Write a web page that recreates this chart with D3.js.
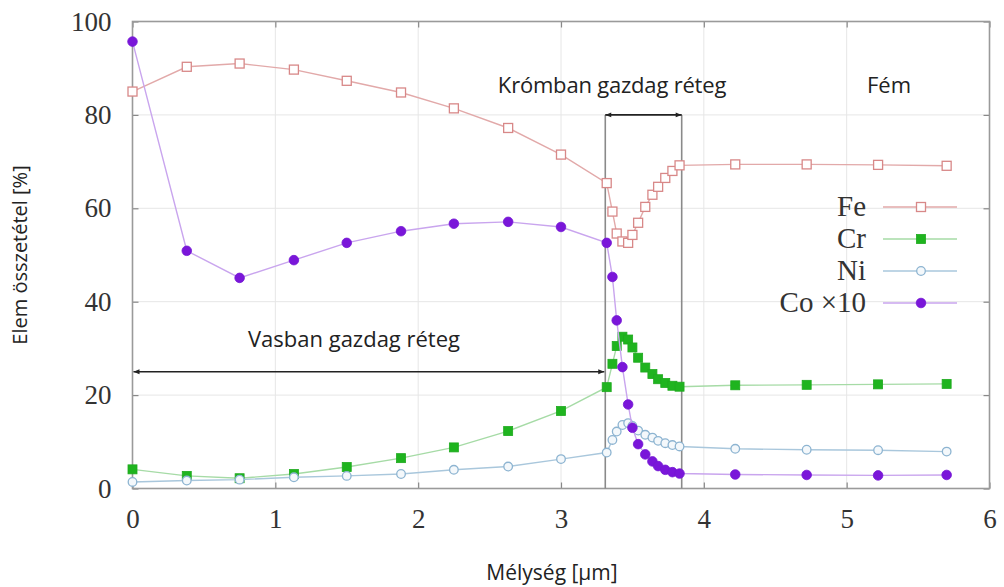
<!DOCTYPE html>
<html><head><meta charset="utf-8">
<script src="https://cdn.jsdelivr.net/npm/d3@7"></script>
<style>body{margin:0;background:#fff}</style>
</head><body>
<svg id="c" width="1004" height="587"></svg>
<script>
// ---- data ----
const depth = [0, 0.38, 0.75, 1.13, 1.5, 1.88, 2.25, 2.63, 3.0, 3.32, 3.36, 3.39, 3.43, 3.47, 3.50, 3.54, 3.59, 3.64, 3.68, 3.73, 3.78, 3.83, 4.22, 4.72, 5.22, 5.70];
const fe = [85.0, 90.3, 91.0, 89.7, 87.3, 84.8, 81.4, 77.2, 71.5, 65.4, 59.3, 54.6, 52.9, 52.6, 54.3, 56.9, 60.3, 62.9, 64.6, 66.5, 68.0, 69.2, 69.4, 69.4, 69.3, 69.1];
const cr = [4.1, 2.7, 2.2, 3.1, 4.6, 6.5, 8.8, 12.3, 16.6, 21.7, 26.7, 30.5, 32.5, 31.9, 30.2, 28.0, 25.9, 24.5, 23.4, 22.6, 22.0, 21.8, 22.1, 22.2, 22.3, 22.4];
const ni = [1.4, 1.7, 1.9, 2.4, 2.7, 3.1, 4.0, 4.7, 6.3, 7.7, 10.4, 12.2, 13.6, 14.0, 13.4, 12.4, 11.5, 10.9, 10.2, 9.7, 9.3, 9.0, 8.5, 8.3, 8.2, 7.9];
const co10 = [95.7, 50.9, 45.1, 48.9, 52.6, 55.1, 56.7, 57.1, 56.0, 52.6, 45.3, 36.0, 26.0, 18.0, 13.0, 9.5, 7.3, 5.8, 4.8, 4.0, 3.5, 3.2, 3.0, 2.9, 2.8, 2.9];
const seriesNames = ["Fe", "Cr", "Ni", "Co \u00d710"];
const xTicks = [0, 1, 2, 3, 4, 5, 6];
const yTicks = [0, 20, 40, 60, 80, 100];
const layerBounds = [3.31, 3.845];      // Cr-rich layer limits (µm)
const layerLabels = ["Krómban gazdag réteg", "Fém", "Vasban gazdag réteg"];
const xTitle = "Mélység [µm]";
const yTitle = "Elem összetétel [%]";

// ---- drawing ----
const svg = d3.select("#c");
const x = d3.scaleLinear().domain([0, 6]).range([132.5, 989.5]);
const y = d3.scaleLinear().domain([0, 100]).range([488.5, 21.5]);
const serif = "'Liberation Serif','DejaVu Serif',serif";
const sans = "'Open Sans','Liberation Sans',sans-serif";

// grid
svg.append("g").selectAll("line").data(xTicks.slice(1, -1)).join("line")
  .attr("x1", d => x(d)).attr("x2", d => x(d)).attr("y1", y(100)).attr("y2", y(0))
  .attr("stroke", "#e6e6e6").attr("stroke-width", 1);
svg.append("g").selectAll("line").data(yTicks.slice(1, -1)).join("line")
  .attr("x1", x(0)).attr("x2", x(6)).attr("y1", d => y(d)).attr("y2", d => y(d))
  .attr("stroke", "#e6e6e6").attr("stroke-width", 1);

// axes
function styleAxis(g, labels) {
  g.select(".domain").remove();
  g.selectAll(".tick line").attr("stroke", "#888").attr("stroke-width", 1.2);
  g.selectAll(".tick text").attr("font-family", serif).attr("font-size", 27).attr("fill", "#333");
  if (!labels) g.selectAll(".tick text").remove();
}
svg.append("g").attr("transform", `translate(0,${y(0)})`)
  .call(d3.axisBottom(x).tickValues(xTicks).tickSize(-6).tickPadding(20).tickFormat(d3.format("d")))
  .call(g => styleAxis(g, true));
svg.append("g").attr("transform", `translate(0,${y(100)})`)
  .call(d3.axisTop(x).tickValues(xTicks).tickSize(-6))
  .call(g => styleAxis(g, false));
svg.append("g").attr("transform", `translate(${x(0)},0)`)
  .call(d3.axisLeft(y).tickValues(yTicks).tickSize(-6).tickPadding(21).tickFormat(d3.format("d")))
  .call(g => styleAxis(g, true));
svg.append("g").attr("transform", `translate(${x(6)},0)`)
  .call(d3.axisRight(y).tickValues(yTicks).tickSize(-6))
  .call(g => styleAxis(g, false));
svg.append("rect").attr("x", x(0)).attr("y", y(100)).attr("width", x(6) - x(0)).attr("height", y(0) - y(100))
  .attr("fill", "none").attr("stroke", "#9a9a9a").attr("stroke-width", 1.6);

// annotations: boundaries and arrows
const defs = svg.append("defs");
["s", "e"].forEach(k => {
  defs.append("marker").attr("id", "ar" + k).attr("viewBox", "0 0 10 10")
    .attr("refX", k === "e" ? 10 : 0).attr("refY", 5).attr("markerWidth", 11).attr("markerHeight", 6)
    .attr("markerUnits", "userSpaceOnUse").attr("orient", "auto")
    .append("path").attr("d", k === "e" ? "M0,1 L10,5 L0,9 Z" : "M10,1 L0,5 L10,9 Z").attr("fill", "#222");
});
svg.append("g").selectAll("line").data(layerBounds).join("line")
  .attr("x1", d => x(d)).attr("x2", d => x(d)).attr("y1", y(80)).attr("y2", y(0))
  .attr("stroke", "#8a8a8a").attr("stroke-width", 1.6);
svg.append("line").attr("x1", x(layerBounds[0])).attr("x2", x(layerBounds[1]))
  .attr("y1", y(80)).attr("y2", y(80)).attr("stroke", "#222").attr("stroke-width", 1.6)
  .attr("marker-start", "url(#ars)").attr("marker-end", "url(#are)");
svg.append("line").attr("x1", x(0) + 1).attr("x2", x(layerBounds[0]) - 1)
  .attr("y1", y(25)).attr("y2", y(25)).attr("stroke", "#222").attr("stroke-width", 1.6)
  .attr("marker-start", "url(#ars)").attr("marker-end", "url(#are)");

svg.append("text").text(layerLabels[0]).attr("x", 612).attr("y", 93).attr("text-anchor", "middle")
  .attr("font-family", sans).attr("font-size", 22).attr("fill", "#222").attr("letter-spacing", -0.2);
svg.append("text").text(layerLabels[1]).attr("x", 889).attr("y", 93).attr("text-anchor", "middle")
  .attr("font-family", sans).attr("font-size", 22).attr("fill", "#222");
svg.append("text").text(layerLabels[2]).attr("x", 354).attr("y", 347).attr("text-anchor", "middle")
  .attr("font-family", sans).attr("font-size", 22).attr("fill", "#222");

// axis titles
svg.append("text").text(xTitle).attr("x", 552).attr("y", 580).attr("text-anchor", "middle")
  .attr("font-family", sans).attr("font-size", 21).attr("fill", "#222");
svg.append("text").text(yTitle).attr("transform", "translate(27,255) rotate(-90)").attr("text-anchor", "middle")
  .attr("font-family", sans).attr("font-size", 20).attr("fill", "#222");

// series
const styles = [
  { vals: fe,   line: "#e2a9a9", stroke: "#d88888", fill: "#fff",    shape: "sq", open: true },
  { vals: cr,   line: "#a6dba6", stroke: "#1faa1f", fill: "#1fb41f", shape: "sq", open: false },
  { vals: ni,   line: "#a9c7dc", stroke: "#8db4d1", fill: "#f4f8fb", shape: "ci", open: true },
  { vals: co10, line: "#c9a5ee", stroke: "#7416d4", fill: "#7a16d9", shape: "ci", open: false }
];
const line = d3.line().x(d => x(d[0])).y(d => y(d[1]));
function drawMarker(g, s, cx, cy) {
  if (s.shape === "sq") {
    g.append("rect").attr("x", cx - 4.5).attr("y", cy - 4.5).attr("width", 9).attr("height", 9)
      .attr("fill", s.fill).attr("stroke", s.stroke).attr("stroke-width", s.open ? 1.3 : 0.8);
  } else {
    g.append("circle").attr("cx", cx).attr("cy", cy).attr("r", s.open ? 4.3 : 4.8)
      .attr("fill", s.fill).attr("stroke", s.stroke).attr("stroke-width", s.open ? 1.3 : 0.8);
  }
}
styles.forEach(s => {
  const pts = depth.map((d, i) => [d, s.vals[i]]);
  const g = svg.append("g");
  g.append("path").attr("d", line(pts)).attr("fill", "none").attr("stroke", s.line).attr("stroke-width", 1.4);
  pts.forEach(p => drawMarker(g, s, x(p[0]), y(p[1])));
});

// legend
const lg = svg.append("g");
seriesNames.forEach((n, i) => {
  const s = styles[i], cy = 207 + i * 32;
  lg.append("text").text(n).attr("x", 866).attr("y", cy + 9).attr("text-anchor", "end")
    .attr("font-family", serif).attr("font-size", 29).attr("fill", "#333");
  lg.append("line").attr("x1", 883).attr("x2", 957).attr("y1", cy).attr("y2", cy)
    .attr("stroke", s.line).attr("stroke-width", 1.4);
  drawMarker(lg, s, 921, cy);
});
</script>
</body></html>
